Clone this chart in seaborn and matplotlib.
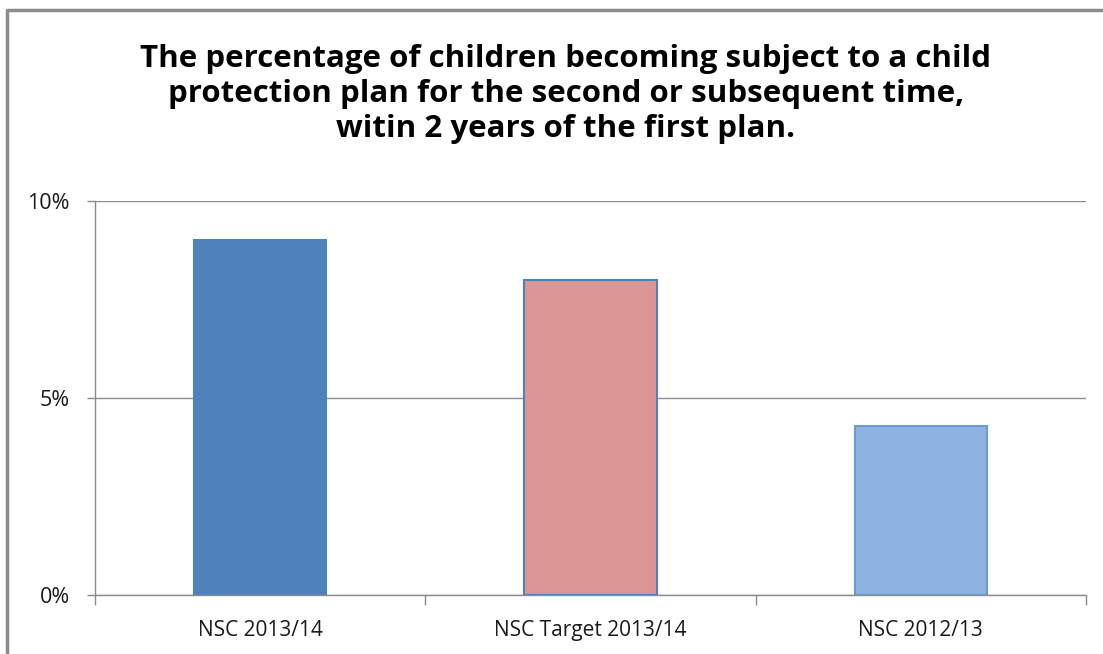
import matplotlib
matplotlib.use("Agg")
import matplotlib.pyplot as plt
from matplotlib.lines import Line2D
from matplotlib.ticker import FixedLocator, PercentFormatter
import pandas as pd
import seaborn as sns

# Data
categories = ["NSC 2013/14", "NSC Target 2013/14", "NSC 2012/13"]
values = [9.0, 8.0, 4.3]
fill_colors = ["#4F81BD", "#D99694", "#8DB3E2"]
edge_colors = ["#4F81BD", "#4F81BD", "#6F9AD0"]
title_text = ("The percentage of children becoming subject to a child\n"
              "protection plan for the second or subsequent time,\n"
              "witin 2 years of the first plan.")

sns.set_theme(style="white")
plt.rcParams["font.family"] = ["Open Sans", "DejaVu Sans"]

df = pd.DataFrame({"category": categories, "value": values})

fig = plt.figure(figsize=(11.03, 6.54), dpi=100)
ax = fig.add_axes([0.0861, 0.0902, 0.8985, 0.6025])

sns.barplot(data=df, x="category", y="value", hue="category",
            palette=fill_colors, saturation=1, width=0.4, legend=False, ax=ax)

for patch, ec in zip(ax.patches, edge_colors):
    patch.set_edgecolor(ec)
    patch.set_linewidth(1.5)

ax.set_xlim(-0.5, 2.5)
ax.set_ylim(0, 10)
ax.set_yticks([0, 5, 10])
ax.yaxis.set_major_formatter(PercentFormatter(decimals=0))
ax.yaxis.grid(True, color="#8C8C8C", linewidth=1)
ax.set_axisbelow(True)
ax.set_xlabel("")
ax.set_ylabel("")

for side in ["top", "right"]:
    ax.spines[side].set_visible(False)
for side in ["left", "bottom"]:
    ax.spines[side].set_color("#8C8C8C")
    ax.spines[side].set_linewidth(1)

ax.tick_params(axis="y", which="major", direction="out", length=6, width=1,
               color="#8C8C8C", pad=12, labelsize=15.5, labelcolor="#1a1a1a", left=True)
ax.tick_params(axis="x", which="major", length=0, pad=18, labelsize=15,
               labelcolor="#1a1a1a")
ax.xaxis.set_minor_locator(FixedLocator([-0.5, 0.5, 1.5, 2.5]))
ax.tick_params(axis="x", which="minor", direction="out", length=7, width=1,
               color="#8C8C8C", bottom=True)

fig.text(0.513, 0.856, title_text, ha="center", va="center", fontsize=22.5,
         fontweight="bold", color="black", linespacing=1.22)

# Chart frame (left and top edges)
fig.add_artist(Line2D([7 / 1103, 7 / 1103, 1.0], [0.0, 1 - 10 / 654, 1 - 10 / 654],
                      transform=fig.transFigure, color="#8C8C8C", linewidth=2.5))

fig.savefig("out.png", dpi=100)
